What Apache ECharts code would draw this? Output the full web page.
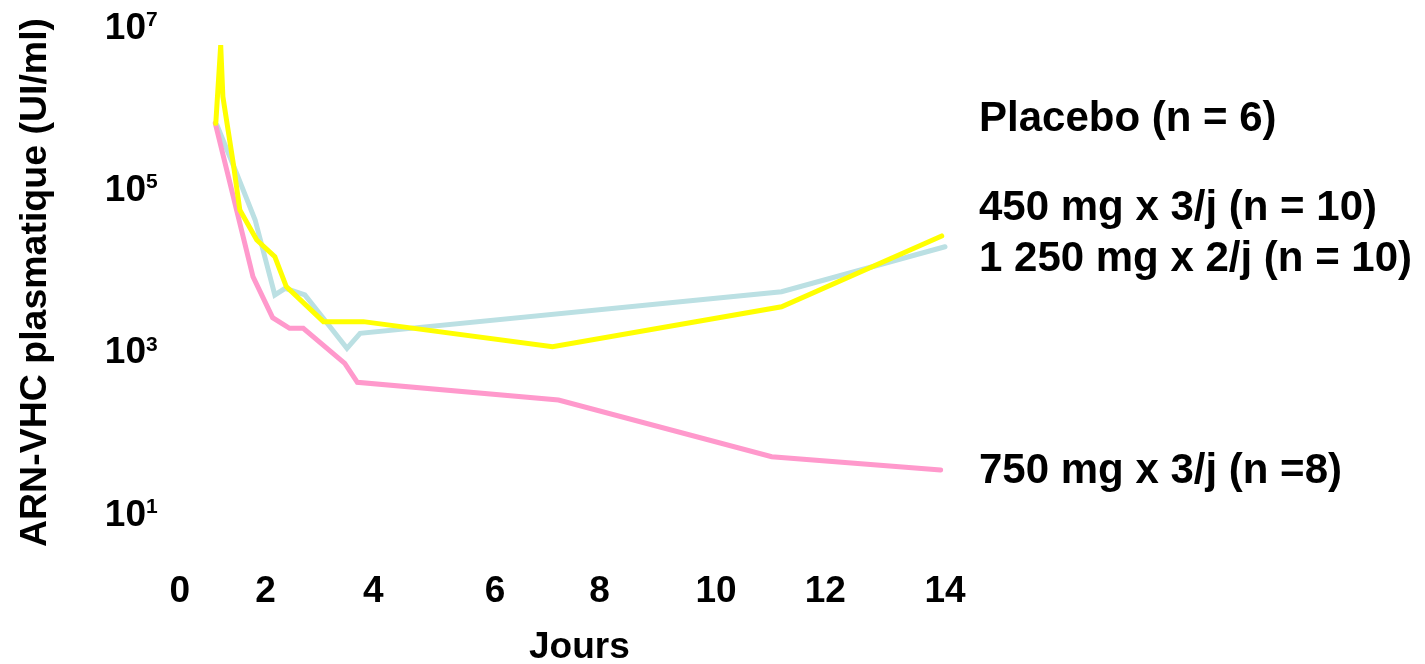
<!DOCTYPE html>
<html>
<head>
<meta charset="utf-8">
<script src="https://cdn.jsdelivr.net/npm/echarts@6/dist/echarts.min.js"></script>
<style>
html,body{margin:0;padding:0;background:#fff;}
#chart{width:1425px;height:664px;}
</style>
</head>
<body>
<div id="chart"></div>
<script>
// ---- data (days, RNA copies UI/ml) ----
const dose1250Days = [0.68, 1.04, 1.38, 1.74, 1.93, 2.29, 3.06, 3.30, 11.01, 14.0];
const dose1250Values = [644000, 164000, 43600, 5200, 6280, 5200, 1146, 1754, 5700, 20400];

const dose750Days = [0.65, 1.34, 1.70, 2.01, 2.26, 3.02, 3.25, 6.93, 10.83, 13.92];
const dose750Values = [680000, 8730, 2730, 2020, 2020, 748, 437, 264, 53, 36.3];

const dose450Days = [0.66, 0.75, 0.79, 0.98, 1.10, 1.41, 1.74, 1.95, 2.63, 3.36, 6.82, 11.01, 13.94];
const dose450Values = [676000, 6220000, 1440000, 217000, 57800, 24700, 15400, 6580, 2440, 2440, 1200, 3720, 27700];

const groupLabels = ['Placebo (n = 6)', '450 mg x 3/j (n = 10)', '1 250 mg x 2/j (n = 10)', '750 mg x 3/j (n =8)'];

const xTickLabels = ['0', '2', '4', '6', '8', '10', '12', '14'];
const xTickValues = [0, 1.57, 3.54, 5.77, 7.68, 9.81, 11.81, 14];
const yTickValues = [10, 1e3, 1e5, 1e7];
const yTickExponents = ['1', '3', '5', '7'];

const xTitle = 'Jours';
const yTitle = 'ARN-VHC plasmatique (UI/ml)';

function pairs(xs, ys) { return xs.map((x, i) => [x, ys[i]]); }

const FONT = '"Liberation Sans", Arial, sans-serif';
const chart = echarts.init(document.getElementById('chart'), null, {renderer: 'canvas'});

const option = {
  backgroundColor: '#ffffff',
  animation: false,
  grid: {left: 179.7, right: 480, top: 28.3, bottom: 148.5, containLabel: false, outerBoundsMode: 'none'},
  xAxis: {
    type: 'value', min: 0, max: 14,
    axisLine: {show: false}, axisTick: {show: false}, splitLine: {show: false},
    axisLabel: {
      customValues: xTickValues,
      margin: 58,
      fontFamily: FONT, fontWeight: 'bold', fontSize: 37, color: '#000', lineHeight: 37,
      formatter: function (v) {
        const i = xTickValues.findIndex(t => Math.abs(t - v) < 1e-6);
        return i >= 0 ? xTickLabels[i] : '';
      }
    },
    name: xTitle, nameLocation: 'middle', nameGap: 114,
    nameTextStyle: {fontFamily: FONT, fontWeight: 'bold', fontSize: 37, color: '#000', padding: [0, 0, 0, 34]}
  },
  yAxis: {
    type: 'log', min: 10, max: 1e7, logBase: 10,
    axisLine: {show: false}, axisTick: {show: false}, splitLine: {show: false},
    axisLabel: {
      customValues: yTickValues,
      margin: 22,
      color: '#000',
      formatter: function (v) {
        const i = yTickValues.findIndex(t => Math.abs(Math.log10(t) - Math.log10(v)) < 1e-6);
        return i >= 0 ? '{b|10}{s|' + yTickExponents[i] + '}' : '';
      },
      rich: {
        b: {fontFamily: FONT, fontWeight: 'bold', fontSize: 37, color: '#000', lineHeight: 37},
        s: {fontFamily: FONT, fontWeight: 'bold', fontSize: 21, color: '#000', verticalAlign: 'top', lineHeight: 21, padding: [0, 0, 14, 0]}
      }
    }
  },
  series: [
    {type: 'line', name: groupLabels[2], data: pairs(dose1250Days, dose1250Values), showSymbol: false, symbol: 'none',
     lineStyle: {color: '#BBE0E3', width: 5, cap: 'round', join: 'miter'}, z: 1},
    {type: 'line', name: groupLabels[3], data: pairs(dose750Days, dose750Values), showSymbol: false, symbol: 'none',
     lineStyle: {color: '#FF99CC', width: 5, cap: 'round', join: 'miter'}, z: 2},
    {type: 'line', name: groupLabels[1], data: pairs(dose450Days, dose450Values), showSymbol: false, symbol: 'none',
     lineStyle: {color: '#FFFF00', width: 5, cap: 'round', join: 'miter'}, z: 3}
  ],
  graphic: [
    {type: 'text', left: 979, top: 98.5, style: {text: groupLabels[0], font: 'bold 42px ' + FONT, fill: '#000'}},
    {type: 'text', left: 979, top: 187.7, style: {text: groupLabels[1], font: 'bold 42px ' + FONT, fill: '#000'}},
    {type: 'text', left: 979, top: 238.5, style: {text: groupLabels[2], font: 'bold 42px ' + FONT, fill: '#000'}},
    {type: 'text', left: 979, top: 450.2, style: {text: groupLabels[3], font: 'bold 42px ' + FONT, fill: '#000'}},
    {type: 'text', x: 36, y: 282.5, rotation: Math.PI / 2,
     style: {text: yTitle, font: 'bold 37.5px ' + FONT, fill: '#000', align: 'center', verticalAlign: 'middle'}}
  ]
};
chart.setOption(option);
</script>
</body>
</html>
